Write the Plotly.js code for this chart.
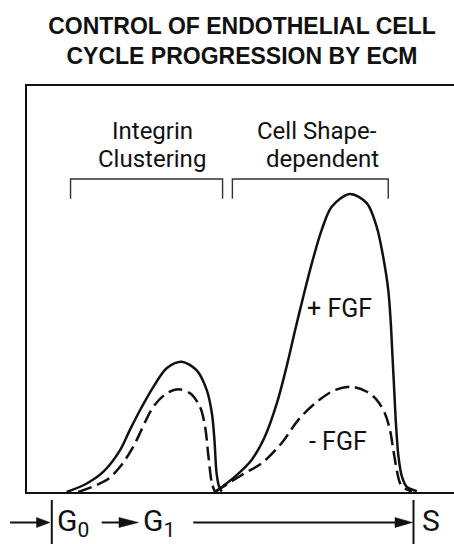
<!DOCTYPE html>
<html>
<head>
<meta charset="utf-8">
<script src="https://cdn.plot.ly/plotly-3.0.1.min.js"></script>
<style>html,body{margin:0;padding:0;background:#fff;}#chart{width:454px;height:544px;}</style>
</head>
<body>
<div id="chart"></div>
<script>
// ---- data (relative activity vs. time through G0 -> G1 -> S) ----
const seriesNames = ['+ FGF', '- FGF'];
const xPlusEarly  = [9.3, 14.0, 17.9, 21.8, 24.1, 26.5, 29.6, 32.7, 36.2, 39.7, 42.1, 43.3, 43.9, 44.4, 45.0, 45.6];
const yPlusEarly  = [0, 2.1, 5.0, 10.3, 15.3, 20.2, 25.9, 30.5, 32.1, 30.0, 25.1, 19.4, 12.8, 4.6, 1.3, 0.1];
const xMinusEarly = [12.0, 18.7, 21.8, 24.9, 29.6, 32.7, 35.4, 38.2, 40.5, 41.7, 42.5, 43.3, 44.0];
const yMinusEarly = [0, 3.0, 6.2, 11.2, 21.0, 24.3, 25.3, 24.3, 21.0, 16.1, 8.7, 2.1, 0.1];
const xPlusLate   = [44.0, 48.7, 52.6, 55.7, 58.5, 60.8, 62.8, 64.7, 66.7, 69.0, 71.4, 75.6, 79.6, 81.9, 83.4, 84.6, 85.2, 85.6, 86.0, 86.4, 87.0, 87.8, 88.9, 91.3];
const yPlusLate   = [0, 3.8, 7.9, 13.6, 21.8, 30.9, 39.9, 48.1, 56.3, 64.5, 70.3, 73.4, 71.1, 65.3, 58.0, 49.8, 41.6, 33.3, 25.1, 16.9, 8.7, 3.8, 1.3, 0.2];
const xMinusLate  = [44.0, 50.3, 55.0, 59.6, 63.5, 67.4, 72.1, 76.1, 79.6, 81.9, 83.8, 85.0, 85.8, 86.6, 87.4, 88.5, 90.2];
const yMinusLate  = [0, 4.2, 7.1, 12.0, 17.7, 21.8, 25.1, 25.9, 24.7, 22.7, 19.4, 15.3, 10.3, 5.4, 2.1, 0.9, 0.1];
const phaseLines  = [['Integrin', 'Clustering'], ['Cell Shape-', 'dependent']];
const phaseStart  = [10.2, 48.1];
const phaseEnd    = [45.8, 84.6];
const stageLabels = ['G<sub>0</sub>', 'G<sub>1</sub>', 'S'];
const titleText   = 'CONTROL OF ENDOTHELIAL CELL<br>CYCLE PROGRESSION BY ECM';

// ---- layout geometry ----
const W = 454, H = 544;
const M = {l: 27, r: 0, t: 86, b: 52};
const PW = W - M.l - M.r, PH = H - M.t - M.b;
const px2x = p => (p - M.l) / PW;           // pixel -> paper x
const py2y = p => (H - M.b - p) / PH;       // pixel -> paper y
const INK = '#111';
const NARROW = '"Liberation Sans Narrow", "Arial Narrow", Roboto, "Liberation Sans", Arial, sans-serif';

const solid = {color: INK, width: 2.5, shape: 'spline', smoothing: 0.9};
const dashed = {color: INK, width: 2.5, shape: 'spline', smoothing: 0.9, dash: '14px,6px'};

const traces = [
  {x: xPlusEarly, y: yPlusEarly, mode: 'lines', line: solid, name: seriesNames[0], legendgroup: 'p', showlegend: false, hoverinfo: 'skip'},
  {x: xMinusEarly, y: yMinusEarly, mode: 'lines', line: dashed, name: seriesNames[1], legendgroup: 'm', showlegend: false, hoverinfo: 'skip'},
  {x: xPlusLate, y: yPlusLate, mode: 'lines', line: solid, name: seriesNames[0], legendgroup: 'p', showlegend: false, hoverinfo: 'skip'},
  {x: xMinusLate, y: yMinusLate, mode: 'lines', line: dashed, name: seriesNames[1], legendgroup: 'm', showlegend: false, hoverinfo: 'skip'}
];

const shapes = [];
// phase brackets
for (let i = 0; i < phaseStart.length; i++) {
  shapes.push({type: 'path', xref: 'x', yref: 'y',
    path: `M ${phaseStart[i]} 72.2 L ${phaseStart[i]} 77.1 L ${phaseEnd[i]} 77.1 L ${phaseEnd[i]} 72.2`,
    line: {color: '#333', width: 1.4}});
}
// bottom arrows
const arrowY = 522.5;
function arrow(x0, xb, xt) {
  shapes.push({type: 'line', xref: 'paper', yref: 'paper', x0: px2x(x0), x1: px2x(xb + 2), y0: py2y(arrowY), y1: py2y(arrowY), line: {color: INK, width: 2}});
  shapes.push({type: 'path', xref: 'paper', yref: 'paper',
    path: `M ${px2x(xb)} ${py2y(arrowY - 5)} L ${px2x(xt)} ${py2y(arrowY)} L ${px2x(xb)} ${py2y(arrowY + 5)} Z`,
    fillcolor: INK, line: {color: INK, width: 0.5}});
}
arrow(10, 36.5, 50);
arrow(101.7, 119, 138.5);
arrow(193.3, 395, 412.5);
// stage boundary bars
[51.8, 413.5].forEach(p => shapes.push({type: 'line', xref: 'paper', yref: 'paper', x0: px2x(p), x1: px2x(p), y0: py2y(500), y1: py2y(550), line: {color: INK, width: 2}}));

const annotations = [];
const phaseCenters = [[29.3, 29.2], [67.8, 69.2]];
const lineY = [88.8, 82.1];
for (let i = 0; i < phaseLines.length; i++) {
  for (let j = 0; j < 2; j++) {
    annotations.push({x: phaseCenters[i][j], y: lineY[j], xref: 'x', yref: 'y', text: phaseLines[i][j], showarrow: false,
      xanchor: 'center', yanchor: 'middle', font: {family: NARROW, size: 24, color: INK}});
  }
}
annotations.push({x: 65.2, y: 45.1, xref: 'x', yref: 'y', text: seriesNames[0], showarrow: false, xanchor: 'left', yanchor: 'middle', font: {family: NARROW, size: 25, color: INK}});
annotations.push({x: 65.6, y: 12.5, xref: 'x', yref: 'y', text: seriesNames[1], showarrow: false, xanchor: 'left', yanchor: 'middle', font: {family: NARROW, size: 25, color: INK}});
const stageX = [55, 140.7, 420];
const stageY = [522.5, 522.5, 520];
stageLabels.forEach((t, i) => annotations.push({x: px2x(stageX[i]), y: py2y(stageY[i]), xref: 'paper', yref: 'paper', text: t, showarrow: false,
  xanchor: 'left', yanchor: 'middle', font: {family: NARROW, size: 30, color: INK}}));

const layout = {
  width: W, height: H,
  margin: M,
  paper_bgcolor: '#fff', plot_bgcolor: '#fff',
  showlegend: false,
  title: {text: titleText, font: {family: '"Liberation Sans", Arial, sans-serif', size: 23, color: INK, weight: 'bold'},
    xref: 'container', yref: 'container', x: 242 / W, xanchor: 'center', y: 1 - 34 / H, yanchor: 'top'},
  xaxis: {range: [0, 100], showline: true, mirror: true, linecolor: INK, linewidth: 2, showgrid: false, zeroline: false, showticklabels: false, ticks: '', fixedrange: true},
  yaxis: {range: [0, 100], showline: true, mirror: false, linecolor: INK, linewidth: 1.8, showgrid: false, zeroline: false, showticklabels: false, ticks: '', fixedrange: true},
  shapes: shapes,
  annotations: annotations
};

Plotly.newPlot('chart', traces, layout, {displayModeBar: false, staticPlot: true});
</script>
</body>
</html>
